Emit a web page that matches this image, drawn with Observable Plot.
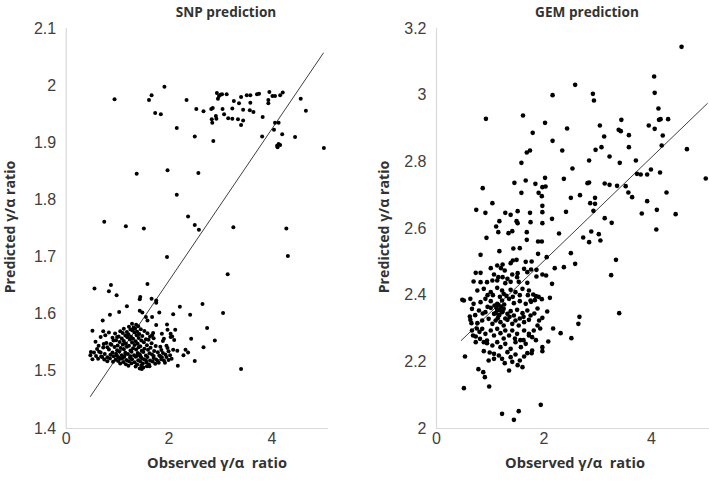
<!DOCTYPE html>
<html><head><meta charset="utf-8">
<script src="https://cdn.jsdelivr.net/npm/d3@7"></script>
<script src="https://cdn.jsdelivr.net/npm/@observablehq/plot@0.6"></script>
<style>
body{margin:0;background:#fff;}
#wrap{position:relative;width:709px;height:485px;overflow:hidden;font-family:"Open Sans",sans-serif;}
.panel{position:absolute;top:0;}
.lbl{position:absolute;font-weight:bold;color:#333;white-space:pre;transform:translate(-50%,-50%);font-size:14.6px;line-height:1;}
.rot{transform:translate(-50%,-50%) rotate(-90deg);font-size:14.2px;}
.ttl{font-size:13.6px;}
</style></head><body><div id="wrap"></div>
<script>
// ---- data ----
const snpTitle = "SNP prediction";
const gemTitle = "GEM prediction";
const xLabel = "Observed \u03b3/\u03b1  ratio";
const yLabel = "Predicted \u03b3/\u03b1 ratio";
const xTicks = [0, 2, 4];
const snpYTicks = [1.4, 1.5, 1.6, 1.7, 1.8, 1.9, 2.0, 2.1];
const gemYTicks = [2.0, 2.2, 2.4, 2.6, 2.8, 3.0, 3.2];
const snpFit = [[0.47, 1.456], [5.0, 2.057]];
const gemFit = [[0.46, 2.264], [5.04, 2.975]];

const snpPoints = [
[0.94,1.976],[1.61,1.975],[1.66,1.983],[1.91,1.998],[1.73,1.952],[1.84,1.950],[2.34,1.975],[2.15,1.926],[2.50,1.911],[2.53,1.959],[2.67,1.955],[2.82,1.959],[2.85,1.961],[2.93,1.987],[2.97,1.982],[3.00,1.984],[3.03,1.985],[2.95,1.977],[3.12,1.985],[2.83,1.941],[2.84,1.935],[2.92,1.942],[2.91,1.947],[3.04,1.959],[3.07,1.950],[3.15,1.943],[3.23,1.942],[3.23,1.960],[3.26,1.973],[3.36,1.969],[3.40,1.980],[3.34,1.941],[3.40,1.931],[3.44,1.939],[3.44,1.958],[3.51,1.983],[3.58,1.983],[3.58,1.970],[3.57,1.957],[3.64,1.954],[3.71,1.985],[3.75,1.986],[3.82,1.945],[3.81,1.911],[3.93,1.969],[3.95,1.989],[3.93,1.975],[4.01,1.982],[4.06,1.982],[4.16,1.983],[4.21,1.988],[4.06,1.935],[4.13,1.935],[4.04,1.923],[4.20,1.915],[4.45,1.910],[4.10,1.895],[4.13,1.898],[4.16,1.896],[4.11,1.892],[4.56,1.977],[4.66,1.956],[5.01,1.891],[2.86,1.903],
[1.37,1.846],[1.97,1.852],[2.57,1.847],[2.15,1.809],[0.74,1.762],[1.16,1.754],[1.51,1.750],[2.37,1.771],[2.50,1.756],[2.58,1.748],[3.25,1.752],[4.28,1.750],[4.31,1.702],[1.96,1.700],[3.14,1.670],
[0.55,1.645],[0.87,1.651],[0.83,1.640],[0.98,1.633],[1.58,1.653],[1.44,1.630],[1.43,1.626],[1.66,1.627],[1.75,1.624],[1.75,1.620],[1.18,1.614],[1.03,1.604],[0.85,1.599],[0.71,1.589],[0.51,1.571],[0.51,1.521],[0.48,1.534],[1.43,1.606],[1.48,1.603],[1.55,1.595],[1.67,1.595],[1.81,1.603],[1.58,1.589],[1.75,1.581],[1.96,1.582],[2.08,1.600],[2.21,1.613],[2.41,1.599],[2.65,1.618],[3.05,1.602],[2.74,1.576],[2.89,1.554],[2.67,1.542],[2.43,1.557],[2.50,1.518],[2.32,1.538],[2.37,1.533],[3.40,1.504],[2.16,1.536],[2.17,1.510],[2.05,1.522],[1.97,1.573],[2.03,1.566],[2.12,1.573],[2.03,1.560],[2.10,1.555],[1.88,1.553],[1.95,1.545],[1.99,1.535],[1.99,1.520],[1.83,1.526],[1.47,1.504],[1.62,1.509],
[0.72,1.570],[0.67,1.560],[0.76,1.563],[0.83,1.568],[0.54,1.533],[0.47,1.528],[0.60,1.539],[0.67,1.533],[0.70,1.525],[0.73,1.548],[0.80,1.542],[0.86,1.548],[0.92,1.554],[0.99,1.560],
[2.28,1.528],[1.69,1.567],[1.67,1.563],[1.86,1.566],[1.90,1.557],[2.06,1.561],
[1.28,1.5835],[1.36,1.5815],[1.22,1.5782],[1.31,1.5768],[1.40,1.5791],[1.12,1.5745],[1.25,1.5731],[1.34,1.5752],[1.45,1.5738],[1.05,1.5702],[1.18,1.5689],[1.29,1.5714],[1.38,1.5695],[1.52,1.5708],[0.95,1.5663],[1.10,1.5671],[1.21,1.5648],[1.33,1.5679],[1.42,1.5652],[1.58,1.5667],[1.02,1.5612],[1.15,1.5628],[1.26,1.5605],[1.37,1.5633],[1.48,1.5618],[1.63,1.5609],[0.90,1.5587],[1.08,1.5573],[1.19,1.5596],[1.30,1.5569],[1.41,1.5584],[1.55,1.5561],[1.70,1.5578],[0.97,1.5546],[1.12,1.5532],[1.24,1.5558],[1.35,1.5527],[1.46,1.5541],[1.60,1.5553],[0.78,1.5498],[1.04,1.5512],[1.16,1.5489],[1.28,1.5505],[1.39,1.5483],[1.51,1.5509],[1.66,1.5491],[0.88,1.5467],[1.00,1.5452],[1.10,1.5471],[1.22,1.5448],[1.33,1.5463],[1.44,1.5439],[1.57,1.5458],[1.74,1.5442],[0.72,1.5418],[0.94,1.5427],[1.06,1.5409],[1.18,1.5431],[1.30,1.5403],[1.41,1.5422],[1.52,1.5396],[1.64,1.5415],[0.83,1.5382],[0.99,1.5371],[1.12,1.5389],[1.25,1.5366],[1.36,1.5384],[1.47,1.5362],[1.59,1.5378],[1.71,1.5357],[1.85,1.5373],[0.64,1.5342],[0.90,1.5331],[1.03,1.5348],[1.15,1.5326],[1.27,1.5344],[1.39,1.5321],[1.50,1.5338],[1.62,1.5317],[1.78,1.5335],[0.75,1.5302],[0.86,1.5289],[0.97,1.5308],[1.08,1.5284],[1.20,1.5305],[1.32,1.5281],[1.43,1.5299],[1.55,1.5276],[1.67,1.5294],[1.81,1.5279],[1.93,1.5297],[0.68,1.5262],[0.80,1.5248],[0.92,1.5266],[1.02,1.5243],[1.13,1.5259],[1.24,1.5238],[1.35,1.5255],[1.46,1.5234],[1.58,1.5251],[1.70,1.5232],[1.86,1.5249],[0.62,1.5221],[0.74,1.5208],[0.85,1.5226],[0.96,1.5203],[1.06,1.5219],[1.17,1.5198],[1.28,1.5214],[1.40,1.5195],[1.51,1.5211],[1.63,1.5192],[1.75,1.5209],[1.90,1.5188],[0.80,1.5178],[0.91,1.5169],[1.01,1.5182],[1.11,1.5163],[1.22,1.5177],[1.33,1.5158],[1.44,1.5173],[1.56,1.5155],[1.68,1.5171],[1.80,1.5152],[1.05,1.5138],[1.16,1.5125],[1.27,1.5142],[1.38,1.5121],[1.49,1.5136],[1.61,1.5118],[1.73,1.5133],[1.21,1.5098],[1.35,1.5085],[1.46,1.5102],[1.57,1.5091],[1.43,1.5052],[1.50,1.5068],
[1.10,1.5235],[1.25,1.5265],[1.45,1.5255],[1.15,1.5305],[1.38,1.5275],[0.98,1.5275],[1.55,1.5195],[1.70,1.5270],[1.85,1.5210],[1.95,1.5250],
[1.88,1.5320],[1.97,1.5410],[2.02,1.5280],[1.92,1.5150],[2.08,1.5380],[1.78,1.5180],[1.83,1.5430],[0.58,1.5270],[0.63,1.5450],[0.57,1.5520]
];

const gemPoints = [
[4.56,3.145],[4.05,3.056],[4.06,3.007],[2.58,3.031],[2.16,3.000],[2.91,3.004],[2.93,2.984],[4.13,2.960],[4.14,2.926],[4.17,2.928],[4.31,2.928],[4.06,2.899],[3.95,2.909],[4.21,2.879],[4.19,2.849],[4.66,2.838],[5.01,2.750],[2.02,2.917],[2.43,2.900],[3.04,2.909],[3.44,2.926],[3.39,2.896],[3.43,2.892],[3.12,2.876],[3.58,2.880],[2.16,2.863],[3.07,2.844],[2.96,2.836],[3.58,2.844],[2.34,2.834],[3.22,2.816],[2.84,2.804],[3.41,2.797],[3.71,2.804],[2.53,2.780],[2.37,2.749],[2.81,2.736],[2.84,2.738],[3.13,2.735],[3.22,2.731],[3.36,2.728],[3.52,2.727],[3.73,2.764],[3.80,2.762],[3.92,2.762],[3.99,2.777],[4.16,2.768],[3.57,2.708],[3.64,2.694],[4.28,2.708],[3.92,2.682],[4.10,2.656],[4.45,2.643],[3.82,2.645],[4.09,2.597],[2.67,2.700],[2.50,2.692],[2.86,2.676],[2.95,2.674],[2.95,2.692],[2.92,2.653],[3.13,2.631],[3.26,2.617],[2.41,2.650],[2.15,2.629],[2.28,2.585],[2.73,2.573],[2.84,2.559],[2.88,2.591],[3.02,2.583],[3.05,2.564],[2.50,2.526],[2.58,2.494],[2.37,2.484],[2.20,2.481],[3.34,2.506],[3.25,2.460],[2.15,2.434],[3.40,2.346],[2.11,2.392],[1.96,2.388],[2.06,2.351],[1.97,2.332],[2.66,2.335],[2.64,2.314],[2.17,2.300],
[2.31,2.286],[2.51,2.271],[2.08,2.261],[1.97,2.244],[1.97,2.232],[1.94,2.071],
[0.92,2.929],[1.61,2.939],[1.79,2.887],
[1.68,2.828],[1.74,2.834],[1.58,2.797],[0.86,2.721],[1.45,2.737],[1.66,2.744],[1.84,2.734],[1.97,2.724],[2.02,2.752],[2.03,2.726],[1.58,2.707],[1.90,2.707],[1.96,2.697],[1.04,2.676],[0.74,2.656],[0.91,2.647],[1.28,2.647],[1.38,2.641],[1.51,2.652],[1.74,2.647],[1.75,2.619],[1.97,2.649],[1.97,2.668],[1.97,2.616],[1.17,2.622],[1.11,2.606],[1.15,2.589],[1.34,2.586],[1.41,2.592],[1.49,2.622],[1.51,2.616],[1.68,2.589],[1.68,2.566],[0.93,2.572],[1.89,2.561],[1.96,2.561],[1.43,2.540],[1.55,2.541],[1.17,2.532],[0.82,2.521],[1.89,2.524],[2.05,2.514],[1.42,2.504],[1.66,2.500],[1.77,2.501],[1.38,2.496],[1.49,2.506],
[1.01,2.481],[1.13,2.489],[1.23,2.492],[1.20,2.481],[1.27,2.474],[1.07,2.462],[1.15,2.454],[1.23,2.454],[1.32,2.449],[1.41,2.462],[1.50,2.454],[1.51,2.466],[1.63,2.479],[1.69,2.469],[1.76,2.477],[1.86,2.476],[1.86,2.456],[1.97,2.462],[2.04,2.459],[0.73,2.467],[0.82,2.467],[0.69,2.441],[0.82,2.439],[0.94,2.439],[1.04,2.444],[1.13,2.444],
[0.51,2.121],[0.98,2.126],[0.53,2.216],[0.78,2.178],[0.87,2.169],[0.90,2.154],[1.35,2.174],[1.22,2.044],[1.53,2.052],[1.44,2.026],[1.27,2.196],[1.41,2.200],[1.51,2.190],[1.60,2.184],[0.88,2.232],[0.99,2.228],[0.97,2.204],[1.07,2.209],[0.51,2.384],[0.48,2.386],[0.62,2.336],[0.65,2.316],[0.66,2.294],[0.68,2.279],[0.73,2.276],[0.81,2.269],[0.73,2.259],[0.88,2.259],[0.94,2.256],
[1.28,2.436],[1.38,2.440],[1.53,2.440],[1.69,2.437],
[0.76,2.414],[0.88,2.419],[1.01,2.409],[1.13,2.422],[1.22,2.414],[1.38,2.416],[1.47,2.409],[1.60,2.419],[1.72,2.414],[1.25,2.404],
[0.63,2.389],[0.69,2.374],[0.82,2.379],[0.91,2.389],[1.01,2.382],[1.13,2.374],[1.22,2.384],[1.35,2.389],[1.44,2.376],[1.55,2.382],[1.66,2.374],[1.75,2.384],
[0.66,2.359],[0.79,2.354],[0.91,2.349],[1.01,2.362],[1.07,2.344],[1.13,2.354],[1.16,2.339],[1.22,2.349],[1.25,2.359],[1.32,2.344],[1.38,2.352],[1.44,2.339],[1.50,2.356],[1.60,2.346],[1.69,2.354],[1.75,2.339],
[0.63,2.326],[0.76,2.316],[0.85,2.324],[0.97,2.329],[1.04,2.314],[1.10,2.324],[1.19,2.319],[1.25,2.309],[1.32,2.326],[1.41,2.314],[1.47,2.324],[1.53,2.309],[1.63,2.319],[1.72,2.326],
[0.85,2.299],[0.91,2.284],[1.01,2.294],[1.07,2.279],[1.13,2.299],[1.19,2.286],[1.28,2.294],[1.35,2.279],[1.41,2.294],[1.50,2.284],[1.63,2.294],[1.72,2.279],
[0.94,2.264],[1.04,2.249],[1.13,2.259],[1.19,2.244],[1.28,2.254],[1.38,2.239],[1.47,2.259],[1.57,2.244],[1.66,2.254],
[1.07,2.224],[1.16,2.219],[1.22,2.209],[1.32,2.229],[1.38,2.214],[1.47,2.222],[1.55,2.204],[1.63,2.216],[1.69,2.226],
[1.72,2.284],[1.78,2.274],[1.81,2.294],[1.88,2.309],[1.91,2.324],[1.78,2.234],[1.77,2.226],
[1.80,2.402],[1.85,2.397],[1.90,2.395],[1.83,2.385],[1.76,2.380],
[1.12,2.361],[1.15,2.371],[1.18,2.356],[1.20,2.366],[1.23,2.351],[1.10,2.346],[1.17,2.341],[1.26,2.372],[1.08,2.369],[1.14,2.331],
[1.05,2.400],[1.18,2.395],[1.30,2.398],[1.42,2.395],[0.95,2.400],[1.55,2.400],[0.86,2.345],[0.95,2.365],[1.28,2.330],[1.36,2.335],[1.55,2.330],[1.62,2.335],[0.72,2.340],[0.75,2.300],[0.80,2.290],[1.46,2.270],[1.25,2.270],[1.56,2.265],[1.85,2.265],[1.82,2.345],[1.88,2.360],[1.93,2.300],[1.70,2.400],[1.62,2.265]
];

// ---- drawing ----
const fmt = d => String(+d.toFixed(1));
function panel(points, fit, xDomain, yDomain, yTicks, width, ml, mr, r) {
  return Plot.plot({
    width, height: 485, marginLeft: ml, marginRight: mr, marginTop: 28, marginBottom: 57,
    style: {fontFamily: "'Liberation Sans', Arial, sans-serif", fontSize: "16px", color: "#404040", background: "transparent", overflow: "visible"},
    x: {domain: xDomain, ticks: xTicks, tickFormat: fmt, tickSize: 0, tickPadding: 4, label: null},
    y: {domain: yDomain, ticks: yTicks, tickFormat: fmt, tickSize: 0, tickPadding: 10, label: null},
    marks: [
      Plot.ruleX([xDomain[0]], {stroke: "#d9d9d9", strokeWidth: 1.2}),
      Plot.ruleY([yDomain[0]], {stroke: "#d9d9d9", strokeWidth: 1.2}),
      Plot.line(fit, {x: d => d[0], y: d => d[1], stroke: "#404040", strokeWidth: 1}),
      Plot.dot(points, {x: d => d[0], y: d => d[1], r, fill: "#000"})
    ]
  });
}
const wrap = document.getElementById("wrap");
const left = panel(snpPoints, snpFit, [0, 5.1], [1.4, 2.1], snpYTicks, 355, 65.7, 27, 2.0);
left.classList.add("panel"); left.style.left = "0px";
const right = panel(gemPoints, gemFit, [0, 5.08], [2, 3.2], gemYTicks, 354, 81, 0, 2.3);
right.classList.add("panel"); right.style.left = "355px";
wrap.append(left, right);
function label(text, x, y, cls) {
  const d = document.createElement("div");
  d.className = "lbl " + (cls || "");
  d.textContent = text;
  d.style.left = x + "px"; d.style.top = y + "px";
  wrap.append(d);
}
label(snpTitle, 226, 12, "ttl");
label(gemTitle, 587, 12, "ttl");
label(yLabel, 10, 227, "rot");
label(yLabel, 384, 227, "rot");
label(xLabel, 217, 462);
label(xLabel, 575, 462);
</script></body></html>
